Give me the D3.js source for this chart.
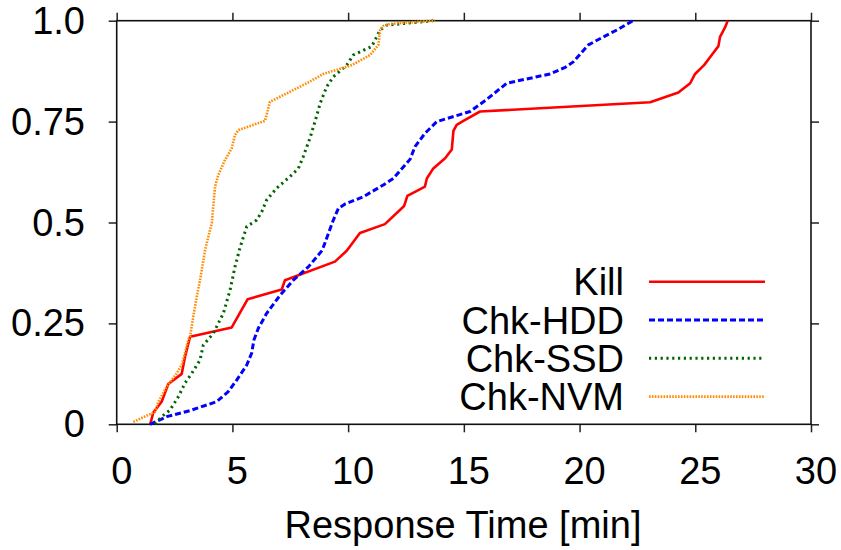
<!DOCTYPE html>
<html><head><meta charset="utf-8">
<script src="https://cdn.jsdelivr.net/npm/d3@7"></script>
<style>body{margin:0;background:#fff}svg{display:block}text{font-family:"Liberation Sans",Arial,sans-serif;fill:#000}</style>
</head><body><svg id="c" width="841" height="550"></svg>
<script>
const xTicks = [0,5,10,15,20,25,30];
const yTicks = [0,0.25,0.5,0.75,1.0];
const yTickLabels = ["0","0.25","0.5","0.75","1.0"];
const seriesNames = ["Kill","Chk-HDD","Chk-SSD","Chk-NVM"];
const killX = [1.45,1.58,1.94,2.23,2.81,2.95,3.17,4.97,5.66,7.13,7.27,9.43,9.94,10.51,11.59,12.42,12.56,13.32,13.40,13.68,14.19,14.48,14.55,14.69,14.98,15.70,23.05,24.27,24.78,24.99,25.38,25.71,26.0,26.07,26.29,26.4];
const killY = [0.0,0.029,0.056,0.10,0.125,0.167,0.217,0.240,0.31,0.334,0.357,0.403,0.430,0.474,0.496,0.541,0.566,0.589,0.609,0.634,0.659,0.681,0.727,0.742,0.752,0.775,0.798,0.822,0.845,0.868,0.890,0.915,0.937,0.960,0.984,1.0];
const hddX = [1.44,2.16,3.17,4.32,4.82,5.19,5.62,5.83,5.93,6.12,6.48,7.06,7.63,8.28,8.88,9.36,9.58,9.87,10.66,11.52,11.95,12.68,12.89,13.32,13.83,14.76,15.27,15.99,16.85,18.72,19.4,19.73,20.38,21.03,21.68,22.3];
const hddY = [0.0,0.019,0.034,0.056,0.081,0.110,0.147,0.176,0.209,0.238,0.275,0.320,0.357,0.390,0.431,0.506,0.535,0.546,0.564,0.593,0.609,0.657,0.688,0.721,0.750,0.766,0.775,0.805,0.845,0.868,0.885,0.898,0.940,0.960,0.979,1.0];
const ssdX = [1.66,1.94,2.30,2.66,2.95,3.24,3.60,3.74,4.17,4.61,4.90,5.11,5.33,5.62,6.05,6.27,6.48,6.91,7.49,7.85,8.06,8.35,8.57,8.79,9.07,9.36,9.94,10.22,11.02,11.38,11.67,13.68];
const ssdY = [0.0,0.019,0.035,0.068,0.102,0.126,0.159,0.196,0.225,0.275,0.333,0.390,0.438,0.490,0.506,0.527,0.556,0.585,0.614,0.634,0.663,0.709,0.750,0.795,0.836,0.861,0.890,0.915,0.936,0.977,0.989,1.0];
const nvmX = [0.72,1.66,1.80,2.16,2.59,2.81,2.95,3.09,3.17,3.31,3.46,3.60,3.82,4.03,4.11,4.17,4.25,4.39,4.68,4.97,5.11,5.26,6.41,6.62,7.49,8.21,8.93,10.16,10.95,11.31,11.38,11.52,11.81,12.68,13.76];
const nvmY = [0.006,0.031,0.056,0.093,0.126,0.147,0.176,0.209,0.217,0.267,0.316,0.357,0.432,0.481,0.498,0.539,0.589,0.618,0.655,0.684,0.717,0.729,0.752,0.799,0.824,0.845,0.868,0.890,0.915,0.940,0.977,0.987,0.992,0.996,1.0];
const seriesX = [killX,hddX,ssdX,nvmX];
const seriesY = [killY,hddY,ssdY,nvmY];
const colors = ["#ff0000","#0000ff","#006400","#ff8c00"];
const dashes = [null,"6,3","2.2,3.6","1.6,1.3"];
const widths = [2.6,3,3,2.6];

const svg = d3.select("#c");
const L=116.7,R=811,T=20.7,B=424.3;
const x = d3.scaleLinear().domain([0,30]).range([L,R]);
const y = d3.scaleLinear().domain([0,1]).range([B,T]);

function ax(g){g.select(".domain").remove();g.selectAll(".tick line").attr("stroke","#222").attr("stroke-width",1.5);g.selectAll(".tick text").remove();}
svg.append("g").attr("transform",`translate(0,${B})`).call(d3.axisBottom(x).tickValues(xTicks).tickSize(8)).call(ax);
svg.append("g").attr("transform",`translate(0,${T})`).call(d3.axisTop(x).tickValues(xTicks).tickSize(8)).call(ax);
svg.append("g").attr("transform",`translate(${L},0)`).call(d3.axisLeft(y).tickValues(yTicks).tickSize(8)).call(ax);
svg.append("g").attr("transform",`translate(${R},0)`).call(d3.axisRight(y).tickValues(yTicks).tickSize(8)).call(ax);
svg.append("rect").attr("x",L).attr("y",T).attr("width",R-L).attr("height",B-T).attr("fill","none").attr("stroke","#111").attr("stroke-width",1.6);

const fs = 38;
svg.selectAll(".xl").data(xTicks).join("text").attr("x",d=>x(d)+5).attr("y",484).attr("text-anchor","middle").attr("font-size",fs).text(d=>d);
svg.selectAll(".yl").data(yTicks).join("text").attr("x",85).attr("y",d=>y(d)+13).attr("text-anchor","end").attr("font-size",fs).text((d,i)=>yTickLabels[i]);
svg.append("text").attr("x",463).attr("y",538).attr("text-anchor","middle").attr("font-size",fs).text("Response Time [min]");

const line = d3.line().x(d=>x(d[0])).y(d=>y(d[1]));
seriesNames.forEach((n,i)=>{
  const pts = seriesX[i].map((v,j)=>[v,seriesY[i][j]]);
  svg.append("path").datum(pts).attr("d",line).attr("fill","none").attr("stroke",colors[i]).attr("stroke-width",widths[i]).attr("stroke-dasharray",dashes[i]).attr("stroke-linejoin","round");
  const ly = 281.7 + i*38.3;
  svg.append("line").attr("x1",649).attr("x2",765).attr("y1",ly).attr("y2",ly).attr("stroke",colors[i]).attr("stroke-width",widths[i]).attr("stroke-dasharray",dashes[i]);
  svg.append("text").attr("x",624).attr("y",ly+13.5).attr("text-anchor","end").attr("font-size",fs).text(n);
});
</script></body></html>
